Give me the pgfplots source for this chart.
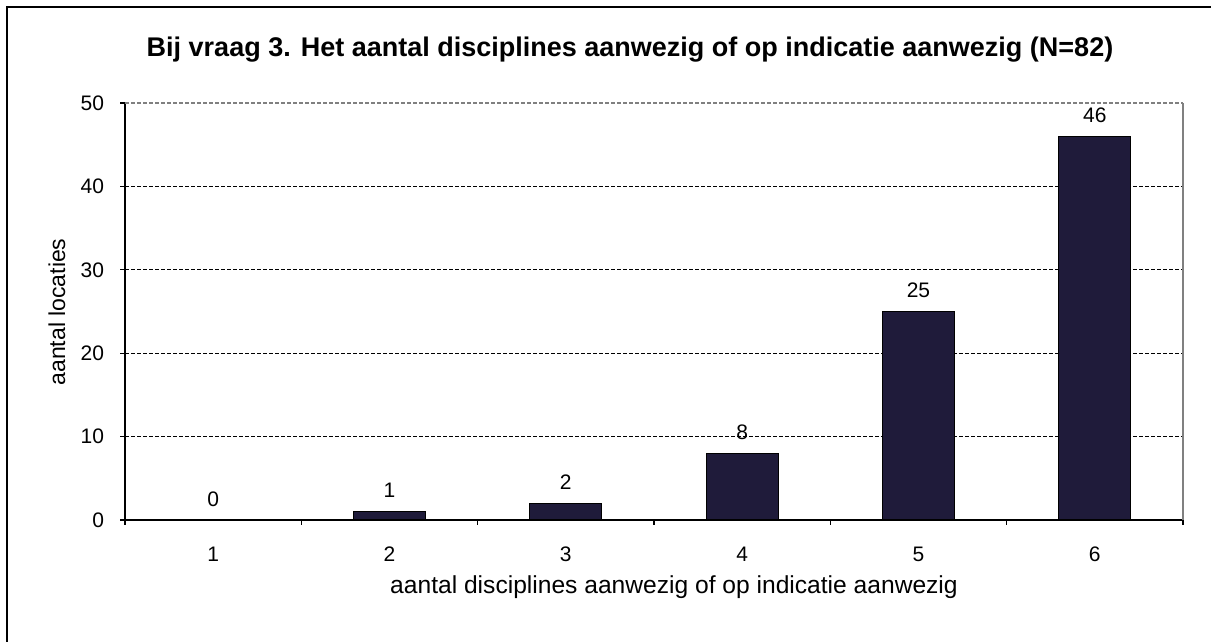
\documentclass[border=0pt]{standalone}
\usepackage{pgfplots}
\pgfplotsset{compat=1.18}
\usepackage{fontspec}
\setmainfont{Liberation Sans}
\definecolor{barnavy}{HTML}{1F1B3A}
\begin{document}
\begin{tikzpicture}[x=1pt,y=1pt]
\useasboundingbox (0,0) rectangle (605.5,321);
% outer frame (only left and top visible)
\draw[line width=1pt] (3.5,0) -- (3.5,317.5) -- (605.5,317.5);
\node[font=\bfseries\fontsize{13.5}{16}\selectfont, anchor=base] at (315,292.5)
  {Bij vraag 3. Het aantal disciplines aanwezig of op indicatie aanwezig (N=82)};
\node[font=\fontsize{12.3}{14}\selectfont, anchor=base] at (337,24)
  {aantal disciplines aanwezig of op indicatie aanwezig};
\node[font=\fontsize{11.5}{14}\selectfont, rotate=90] at (28.5,165) {aantal locaties};
\begin{axis}[
  at={(62.5pt,61pt)}, anchor=south west,
  scale only axis, width=529pt, height=208.5pt,
  xmin=0.5, xmax=6.5, ymin=0, ymax=50,
  axis x line*=bottom, axis y line*=left,
  axis line style={line width=1pt, -},
  ybar, bar width=36pt,
  xtick={1,...,6}, ytick={0,10,...,50},
  minor xtick={0.5,1.5,...,6.5}, minor ytick={0,10,...,50},
  tick align=outside, major tick length=0pt, minor tick length=2.5pt,
  minor tick style={black, line width=0.6pt},
  /pgf/number format/assume math mode=true,
  ticklabel style={font=\fontsize{10.5}{12}\selectfont},
  xticklabel style={yshift=-10pt},
  yticklabel style={xshift=-7pt},
  nodes near coords,
  every node near coord/.append style={font=\fontsize{10.5}{12}\selectfont, anchor=center, yshift=10.5pt, black},
  clip=false,
]
\draw[black, line width=0.5pt, dash pattern=on 2pt off 1pt] (axis cs:0.5,10) -- (axis cs:6.5,10);
\draw[black, line width=0.5pt, dash pattern=on 2pt off 1pt] (axis cs:0.5,20) -- (axis cs:6.5,20);
\draw[black, line width=0.5pt, dash pattern=on 2pt off 1pt] (axis cs:0.5,30) -- (axis cs:6.5,30);
\draw[black, line width=0.5pt, dash pattern=on 2pt off 1pt] (axis cs:0.5,40) -- (axis cs:6.5,40);
\draw[gray, line width=0.8pt, dash pattern=on 2pt off 1pt] (axis cs:0.5,50) -- (axis cs:6.5,50);
\draw[gray, line width=1pt] (axis cs:6.5,0) -- (axis cs:6.5,50);
\addplot[fill=barnavy, draw=black, line width=0.6pt]
  coordinates {(1,0) (2,1) (3,2) (4,8) (5,25) (6,46)};
\end{axis}
\end{tikzpicture}
\end{document}
